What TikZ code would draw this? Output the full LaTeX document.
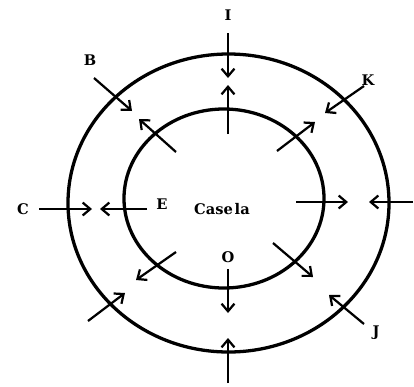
\documentclass[tikz,border=0pt]{standalone}
\usepackage{fontspec}
\setmainfont{DejaVu Serif}
\usetikzlibrary{arrows.meta}

\tikzset{
  ring/.style={line width=2.8pt},
  flow/.style={line width=1.9pt, -{Straight Barb[length=6.5pt,width=11pt,line width=1.9pt]}},
  lbl/.style={font=\fontsize{12.5}{14}\selectfont\bfseries, inner sep=0pt}
}

\begin{document}
\begin{tikzpicture}[x=0.03cm, y=-0.03cm]
  \useasboundingbox (0,0) rectangle (414,387);
  % rings
  \draw[ring] (228.5,203) ellipse [x radius=4.815cm, y radius=4.47cm];
  \draw[ring] (224,198.5) ellipse [x radius=3.0cm, y radius=2.685cm];
  % labels
  \node[lbl] (labI) at (228,15) {I};
  \node[lbl] (labB) at (90,60) {B};
  \node[lbl] (labK) at (368,80) {K};
  \node[lbl] (labC) at (23,209) {C};
  \node[lbl] (labE) at (162,204) {E};
  \node[lbl] (labO) at (228,257) {O};
  \node[lbl] (labJ) at (376,333) {J};
  \node[lbl] (casela) at (222,209) {Case\kern1.5pt la};
  % arrows
  \foreach \n/\xa/\ya/\xb/\yb in {
    topin/228/33/228/78,
    topout/228/134/228/85,
    bin/94/78/132/111,
    nwout/176/152/139/119,
    kin/364/86/325/113,
    neout/277/151/315/122,
    cin/39/209/92/209,
    eout/147/209/100/209,
    rout/296/202/348/202,
    rin/413/202/369/202,
    oout/228/269/228/313,
    botin/228/383/228/338,
    swout/176/252/136/280,
    swin/88/321/125/293,
    seout/273/243/313/277,
    jin/364/324/329/295
  } {
    \coordinate (\n-s) at (\xa,\ya);
    \coordinate (\n-e) at (\xb,\yb);
    \draw[flow] (\n-s) -- (\n-e);
  }
\end{tikzpicture}
\end{document}
